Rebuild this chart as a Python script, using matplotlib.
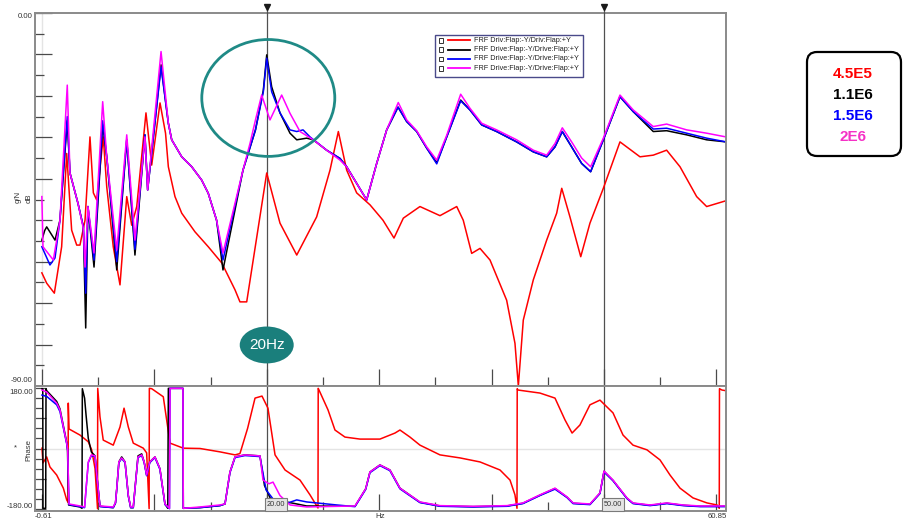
import matplotlib
matplotlib.use("Agg")
import matplotlib.pyplot as plt
from matplotlib.patches import Ellipse, FancyBboxPatch, Rectangle
from matplotlib.ticker import MultipleLocator

plt.rcParams["font.family"] = ["Liberation Sans", "DejaVu Sans"]

W, H = 905, 524  # canvas in pixels at dpi 100

x_min, x_max = -0.61, 60.85
db_min, db_max = -90.0, 0.0
cursor_hz = [20.0, 50.0]

trace_names = [
    "FRF Driv:Flap:-Y/Driv:Flap:+Y",
    "FRF Drive:Flap:-Y/Drive:Flap:+Y",
    "FRF Drive:Flap:-Y/Drive:Flap:+Y",
    "FRF Drive:Flap:-Y/Drive:Flap:+Y",
]
damping_labels = ["4.5E5", "1.1E6", "1.5E6", "2E6"]
trace_colors = ["#ff0000", "#000000", "#0000ff", "#ff00ff"]
label_colors = ["#ff0000", "#000000", "#0000ff", "#f531c6"]

# ---- magnitude (dB) ----
red_mag_hz = [0.00, 0.43, 1.11, 1.76, 2.21, 2.65, 3.10, 3.39, 3.84, 4.28, 4.58, 4.88,
              5.46, 5.77, 6.35, 6.95, 7.55, 7.99, 8.44, 9.26, 9.77, 10.51, 11.00, 11.25,
              11.84, 12.44, 13.62, 14.80, 16.00, 17.18, 17.62, 18.22, 20.00, 21.18, 22.67, 24.44,
              25.63, 26.37, 27.11, 28.00, 29.19, 30.34, 31.32, 32.15, 33.63, 35.41, 36.90, 37.48,
              38.23, 38.97, 39.86, 41.34, 42.08, 42.38, 42.82, 43.71, 44.90, 45.79, 46.24, 46.97,
              47.93, 48.75, 49.94, 51.42, 53.20, 54.38, 55.57, 56.76, 58.24, 59.13, 60.85]
red_mag_db = [-62.7, -65.2, -67.6, -56.4, -33.9, -52.4, -56.0, -56.0, -50.0, -29.9, -43.4, -45.1,
              -29.9, -41.9, -56.4, -65.6, -44.3, -51.2, -46.7, -24.1, -36.7, -21.7, -29.0, -37.1,
              -44.3, -48.3, -52.8, -56.4, -60.3, -66.8, -69.7, -69.7, -38.6, -50.7, -58.4, -49.2,
              -37.9, -28.6, -37.9, -43.4, -46.3, -50.0, -54.3, -49.5, -46.7, -48.9, -46.7, -50.0,
              -58.0, -56.8, -59.6, -69.3, -79.7, -90.0, -74.1, -64.4, -54.8, -48.3, -42.3, -49.2,
              -58.8, -50.7, -42.3, -31.1, -34.7, -34.3, -33.1, -37.1, -44.3, -46.7, -45.3]

black_mag_hz = [0.00, 0.25, 0.43, 1.17, 1.61, 2.26, 2.50, 3.21, 3.69, 3.90, 4.10, 4.64,
                5.41, 5.77, 6.66, 7.55, 8.28, 9.17, 9.41, 10.60, 11.25, 11.55, 12.44, 13.33,
                14.21, 14.80, 15.54, 16.11, 17.89, 19.00, 19.70, 20.00, 20.44, 21.18, 22.07, 22.67,
                23.55, 24.14, 25.33, 26.52, 27.11, 28.00, 28.89, 29.78, 30.67, 31.68, 32.45, 33.34,
                34.23, 35.12, 36.01, 37.25, 38.08, 39.12, 40.45, 42.23, 43.71, 44.90, 45.64, 46.29,
                47.12, 48.01, 48.81, 49.94, 51.42, 52.60, 54.38, 55.57, 57.35, 59.13, 60.85]
black_mag_db = [-54.8, -52.5, -51.6, -54.8, -50.0, -26.0, -38.6, -45.9, -51.6, -76.0, -46.7, -61.3,
                -27.0, -34.7, -62.0, -30.6, -58.4, -29.4, -42.7, -12.5, -26.6, -30.6, -34.7, -37.1,
                -40.3, -43.5, -50.0, -62.0, -37.9, -28.2, -18.6, -10.1, -17.8, -24.1, -29.0, -30.6,
                -30.2, -30.6, -33.1, -35.1, -37.1, -41.1, -45.1, -36.3, -28.2, -22.7, -26.2, -28.6,
                -32.6, -36.1, -29.9, -21.0, -23.4, -27.0, -28.6, -31.1, -33.5, -34.7, -32.3, -28.6,
                -32.3, -36.3, -38.3, -30.6, -20.2, -23.8, -28.6, -28.4, -29.4, -30.6, -31.1]

blue_mag_hz = [0.00, 0.72, 1.17, 1.61, 2.26, 2.50, 3.21, 3.69, 3.90, 4.10, 4.64, 5.41,
               5.77, 6.66, 7.55, 8.28, 9.17, 9.41, 10.60, 11.25, 11.55, 12.44, 13.33, 14.21,
               14.80, 15.54, 16.11, 17.89, 19.00, 19.70, 20.00, 20.44, 21.18, 22.07, 22.67, 23.23,
               23.85, 25.33, 26.52, 27.11, 28.00, 28.89, 29.78, 30.67, 31.68, 32.45, 33.34, 34.23,
               35.12, 36.01, 37.25, 38.08, 39.12, 40.45, 42.23, 43.71, 44.90, 45.64, 46.29, 47.12,
               48.01, 48.81, 49.94, 51.42, 52.60, 54.38, 55.57, 57.35, 59.13, 60.85]
blue_mag_db = [-56.4, -60.8, -59.1, -50.0, -25.0, -38.6, -45.9, -51.6, -67.6, -46.7, -59.6, -26.0,
               -34.7, -60.0, -30.6, -57.0, -29.4, -42.7, -13.0, -26.6, -30.6, -34.7, -37.1, -40.3,
               -43.5, -50.0, -59.6, -37.9, -28.2, -19.0, -10.9, -19.0, -24.1, -28.2, -28.6, -28.2,
               -29.9, -33.1, -35.1, -37.1, -41.1, -45.1, -36.3, -28.2, -22.7, -26.2, -28.6, -32.6,
               -36.4, -29.9, -21.2, -23.4, -27.0, -28.6, -31.1, -33.5, -34.7, -32.3, -28.6, -32.3,
               -36.3, -38.3, -30.6, -20.2, -23.8, -28.0, -27.8, -29.0, -30.2, -31.1]

magenta_mag_hz = [0.00, 0.10, 1.02, 1.61, 2.26, 2.50, 3.21, 3.69, 3.84, 4.10, 4.64, 5.41,
                  5.77, 6.66, 7.55, 8.28, 9.17, 9.41, 10.60, 11.25, 11.55, 12.44, 13.33, 14.21,
                  14.80, 15.54, 16.11, 17.89, 18.52, 19.00, 19.55, 20.29, 21.33, 22.07, 22.96, 24.14,
                  25.33, 26.52, 27.11, 28.00, 28.89, 29.78, 30.67, 31.70, 32.45, 33.34, 34.23, 35.12,
                  36.01, 37.25, 38.08, 39.12, 40.45, 42.23, 43.71, 44.90, 45.64, 46.29, 47.12, 48.01,
                  48.81, 49.94, 51.42, 52.60, 54.38, 55.57, 57.35, 59.13, 60.85]
magenta_mag_db = [-44.3, -56.4, -59.6, -50.0, -17.4, -38.6, -45.9, -52.0, -61.3, -46.7, -57.9, -21.4,
                  -34.7, -57.2, -29.4, -54.8, -29.9, -42.7, -9.3, -26.6, -30.6, -34.7, -37.1, -40.3,
                  -43.5, -50.0, -57.9, -37.9, -31.4, -25.8, -19.8, -25.8, -19.8, -24.2, -28.6, -30.6,
                  -33.1, -35.5, -37.1, -41.1, -45.1, -36.3, -28.2, -21.6, -25.8, -28.4, -32.3, -35.5,
                  -29.5, -19.6, -23.0, -26.6, -28.2, -30.6, -33.1, -34.3, -31.5, -27.7, -31.1, -35.0,
                  -37.1, -30.2, -19.8, -23.4, -27.4, -26.8, -28.2, -29.0, -29.9]

# ---- phase (deg), wrapped to +/-180 ----
red_ph_hz = [0.01, 0.10, 0.43, 0.72, 1.32, 1.91, 2.21, 2.33, 2.35, 2.42, 3.39, 4.13,
             4.43, 4.73, 4.95, 4.97, 5.17, 5.46, 6.35, 6.95, 7.31, 7.69, 8.13, 9.02,
             9.32, 9.54, 9.56, 9.77, 10.80, 11.10, 11.40, 12.58, 14.07, 15.84, 17.18, 17.62,
             18.30, 18.96, 19.58, 20.11, 20.74, 21.63, 22.96, 23.85, 24.56, 24.58, 24.65, 25.45,
             26.07, 26.96, 28.30, 30.07, 31.41, 31.85, 32.74, 33.63, 35.41, 37.19, 38.97, 40.75,
             41.64, 42.08, 42.26, 42.28, 42.35, 44.30, 45.64, 46.53, 47.16, 47.86, 48.75, 49.64,
             50.80, 51.69, 52.58, 53.82, 54.98, 55.87, 56.76, 57.91, 59.16, 60.05, 60.25, 60.27,
             60.49, 60.85]
red_ph_deg = [1, -43, -25, -55, -79, -118, -153, -160, 135, 58, 40, 20,
              -4, -60, -179, 179, 94, 25, 10, 64, 120, 64, 16, 1,
              -13, -179, 179, 178, 154, 85, 16, 1, 0, -10, -19, -15,
              60, 150, 156, 120, -19, -64, -94, -138, -177, 179, 174, 115,
              55, 34, 28, 28, 46, 55, 34, 10, -19, -28, -40, -64,
              -94, -138, -178, 178, 174, 165, 150, 85, 46, 70, 130, 144,
              106, 40, 10, -4, -34, -79, -118, -147, -162, -168, -178, 178,
              174, 172]

black_ph_hz = [0.01, 0.08, 0.10, 0.34, 0.37, 0.43, 1.32, 1.61, 1.91, 2.21, 2.28, 2.38,
               3.39, 3.57, 3.60, 3.80, 3.93, 4.13, 4.40, 4.73, 4.95, 5.17, 6.35, 6.55,
               6.66, 6.85, 7.10, 7.40, 7.69, 7.90, 8.13, 8.28, 8.55, 8.88, 9.10, 9.32,
               9.60, 10.06, 10.50, 10.95, 11.20, 11.25, 12.55, 12.58, 14.07, 15.84, 16.29, 16.73,
               17.18, 18.07, 19.40, 19.80, 20.47, 21.18, 21.89, 22.67, 23.55, 27.85, 28.80, 29.18,
               30.07, 30.96, 31.85, 32.45, 33.63, 35.41, 38.35, 41.37, 42.79, 44.30, 45.64, 46.71,
               47.25, 48.75, 49.64, 50.00, 50.80, 52.04, 52.58, 54.09, 55.60, 57.02, 58.53, 60.85]
black_ph_deg = [178, 178, -178, -178, 178, 172, 140, 118, 68, 18, -4, -168,
                -174, -178, 178, 150, 100, 30, -10, -22, -100, -172, -176, -162,
                -120, -40, -25, -40, -140, -176, -176, -120, -22, -16, -40, -79,
                -40, -25, -60, -165, -178, 179, 179, -178, -176, -170, -165, -70,
                -25, -19, -22, -110, -159, -165, -160, -165, -171, -172, -120, -70,
                -49, -64, -118, -132, -160, -171, -173, -171, -163, -139, -119, -145,
                -163, -166, -133, -68, -95, -148, -163, -169, -163, -169, -172, -172]

blue_ph_hz = [0.01, 0.43, 1.32, 1.61, 1.91, 2.21, 2.30, 2.41, 3.39, 3.80, 3.93, 4.13,
              4.40, 4.73, 4.95, 5.17, 6.35, 6.55, 6.66, 6.85, 7.10, 7.40, 7.69, 7.90,
              8.13, 8.28, 8.55, 8.88, 9.10, 9.32, 9.60, 10.06, 10.50, 10.95, 11.35, 11.40,
              12.55, 12.58, 14.07, 15.84, 16.29, 16.73, 17.18, 18.07, 19.40, 19.94, 20.56, 21.89,
              22.67, 23.55, 26.22, 27.85, 28.80, 29.18, 30.07, 30.96, 31.85, 32.45, 33.63, 35.41,
              38.35, 41.37, 42.79, 44.30, 45.64, 46.71, 47.25, 48.75, 49.64, 50.00, 50.80, 52.04,
              52.58, 54.09, 55.60, 57.02, 58.53, 60.85]
blue_ph_deg = [159, 155, 130, 110, 62, 14, -6, -167, -173, -176, -122, -42,
               -21, -24, -102, -173, -176, -162, -122, -42, -30, -42, -142, -176,
               -176, -122, -27, -21, -42, -81, -42, -27, -62, -167, -179, 179,
               179, -178, -176, -170, -165, -72, -27, -21, -24, -123, -150, -162,
               -153, -159, -168, -173, -122, -72, -51, -66, -120, -134, -161, -172,
               -174, -172, -164, -140, -121, -146, -164, -167, -134, -70, -96, -149,
               -164, -170, -164, -170, -173, -173]

magenta_ph_hz = [0.01, 0.43, 1.32, 1.61, 1.91, 2.21, 2.30, 2.41, 3.39, 3.80, 3.93, 4.13,
                 4.40, 4.73, 4.95, 5.17, 6.35, 6.55, 6.66, 6.85, 7.10, 7.40, 7.69, 7.90,
                 8.13, 8.28, 8.55, 8.88, 9.10, 9.32, 9.60, 10.06, 10.50, 10.95, 11.35, 11.40,
                 12.55, 12.58, 14.07, 15.84, 16.29, 16.73, 17.18, 18.07, 19.40, 19.67, 20.20, 20.56,
                 21.18, 22.07, 23.55, 27.85, 28.80, 29.18, 30.07, 30.96, 31.85, 32.45, 33.63, 35.41,
                 38.35, 41.37, 42.79, 44.30, 45.64, 46.71, 47.25, 48.75, 49.64, 50.00, 50.80, 52.04,
                 52.58, 54.09, 55.60, 57.02, 58.53, 60.85]
magenta_ph_deg = [174, 168, 135, 115, 65, 16, -4, -165, -171, -174, -120, -40,
                  -19, -22, -100, -171, -174, -160, -120, -40, -28, -40, -140, -174,
                  -174, -120, -25, -19, -40, -79, -40, -25, -60, -165, -178, 179,
                  179, -178, -174, -168, -165, -70, -25, -19, -22, -94, -105, -100,
                  -140, -168, -174, -171, -120, -70, -49, -64, -118, -132, -159, -170,
                  -172, -170, -162, -138, -118, -144, -162, -165, -132, -67, -94, -147,
                  -162, -168, -162, -168, -171, -171]

mag_series = [(red_mag_hz, red_mag_db), (black_mag_hz, black_mag_db),
              (blue_mag_hz, blue_mag_db), (magenta_mag_hz, magenta_mag_db)]
ph_series = [(red_ph_hz, red_ph_deg), (black_ph_hz, black_ph_deg),
             (blue_ph_hz, blue_ph_deg), (magenta_ph_hz, magenta_ph_deg)]


def fx(p):
    return p / W


def fy(p):
    return 1 - p / H


fig = plt.figure(figsize=(W / 100, H / 100), dpi=100)
fig.patch.set_facecolor("white")

ax_mag = fig.add_axes([fx(35), fy(386), fx(726) - fx(35), fy(13) - fy(386)])
ax_ph = fig.add_axes([fx(35), fy(511), fx(726) - fx(35), fy(386) - fy(511)])

ax_mag.set_ylim(db_min, db_max)
ax_ph.set_ylim(-186, 186)

for ax in (ax_mag, ax_ph):
    ax.set_xlim(x_min, x_max)
    for sp in ax.spines.values():
        sp.set_color("#8a8a8a")
        sp.set_linewidth(1.4)
    ax.xaxis.set_major_locator(MultipleLocator(10))
    ax.xaxis.set_minor_locator(MultipleLocator(5))
    ax.tick_params(which="both", direction="in", colors="#4a4a4a", width=0.9,
                   labelbottom=False, labelleft=False)
    ax.tick_params(axis="x", which="major", length=12)
    ax.tick_params(axis="x", which="minor", length=6.5)

ax_mag.yaxis.set_major_locator(MultipleLocator(10))
ax_mag.yaxis.set_minor_locator(MultipleLocator(5))
ax_mag.tick_params(axis="y", which="major", length=12)
ax_mag.tick_params(axis="y", which="minor", length=6.5)
ax_ph.yaxis.set_major_locator(MultipleLocator(90))
ax_ph.yaxis.set_minor_locator(MultipleLocator(30))
ax_ph.tick_params(axis="y", which="major", length=8)
ax_ph.tick_params(axis="y", which="minor", length=5)

# faint reference lines
ax_mag.axvline(0, color="#e4e4e4", lw=1.0, zorder=0)
ax_ph.axhline(0, color="#e4e4e4", lw=1.0, zorder=0)

# cursors
for c in cursor_hz:
    ax_mag.axvline(c, color="#505050", lw=0.9, zorder=1.5)
    ax_ph.axvline(c, color="#505050", lw=0.9, zorder=1.5)

for (hz, db), col in zip(mag_series, trace_colors):
    ax_mag.plot(hz, db, color=col, lw=1.1, zorder=2)
for (hz, deg), col in zip(ph_series, trace_colors):
    ax_ph.plot(hz, deg, color=col, lw=1.1, zorder=2)

# highlight around the 20 Hz mode
ax_mag.add_patch(Ellipse((20.14, -20.5), 11.83, 28.2, fill=False, ec="#1f8a86",
                         lw=2.0, clip_on=False, zorder=5))
ax_mag.add_patch(Ellipse((20.0, -80.1), 4.8, 8.9, fc="#1a7f7c", ec="none", zorder=6))
ax_mag.text(20.0, -80.1, "20Hz", color="white", fontsize=11, ha="center",
            va="center", zorder=7)

# overlay in pixel units for the chrome around the plots
ov = fig.add_axes([0, 0, 1, 1], facecolor="none")
ov.set_xlim(0, W)
ov.set_ylim(H, 0)
ov.axis("off")

tick_txt = dict(fontsize=5.6, color="#333333")
ov.text(33, 17, f"{db_max:.2f}", ha="right", va="center", **tick_txt)
ov.text(33, 381, f"{db_min:.2f}", ha="right", va="center", **tick_txt)
ov.text(33, 392, "180.00", ha="right", va="center", **tick_txt)
ov.text(33, 506, "-180.00", ha="right", va="center", **tick_txt)
ov.text(35, 516, f"{x_min:.2f}", ha="left", va="center", **tick_txt)
ov.text(727, 516, f"{x_max:.2f}", ha="right", va="center", **tick_txt)
ov.text(380, 517, "Hz", ha="center", va="center", **tick_txt)
ov.text(15, 448, "*", ha="center", va="center", **tick_txt)
ov.text(29, 450, "Phase", ha="center", va="center", rotation=90, **tick_txt)
ov.text(29, 198, "dB", ha="center", va="center", rotation=90, **tick_txt)
ov.text(18, 197, "g/N", ha="center", va="center", rotation=90, **tick_txt)

# cursor markers and readouts
for c in cursor_hz:
    cx = ax_ph.transData.transform((c, 0))[0]
    ov.plot([cx, cx], [7, 13], color="#505050", lw=0.9)
    ov.plot(cx, 7, marker="v", ms=4.5, color="#1a1a1a")
    ov.add_patch(Rectangle((cx - 2, 498), 22, 12.5, fc="#e4e4e4", ec="#7a7a7a", lw=0.8))
    ov.text(cx + 9, 504.5, f"{c:.2f}", fontsize=5.3, ha="center", va="center", color="#333333")

# trace legend
ov.add_patch(Rectangle((435, 35), 148, 42, fc="white", ec="#4a4a8a", lw=1.0, zorder=5))
for i, (name, col) in enumerate(zip(trace_names, trace_colors)):
    yy = 40.3 + i * 9.35
    ov.add_patch(Rectangle((438.5, yy - 2.3), 4.6, 4.6, fc="white", ec="#333333",
                           lw=0.7, zorder=6))
    ov.plot([448, 470], [yy, yy], color=col, lw=1.3, zorder=6)
    ov.text(474, yy, name, fontsize=5.2, ha="left", va="center", color="#222222", zorder=6)

# damping key
ov.add_patch(FancyBboxPatch((807, 52), 94, 104, boxstyle="round,pad=0,rounding_size=10",
                            fc="white", ec="black", lw=1.6))
for i, (lab, col) in enumerate(zip(damping_labels, label_colors)):
    ov.text(853, 73.5 + i * 21.2, lab, color=col, fontsize=11, fontweight="bold",
            ha="center", va="center")

fig.savefig("out.png", dpi=100)
